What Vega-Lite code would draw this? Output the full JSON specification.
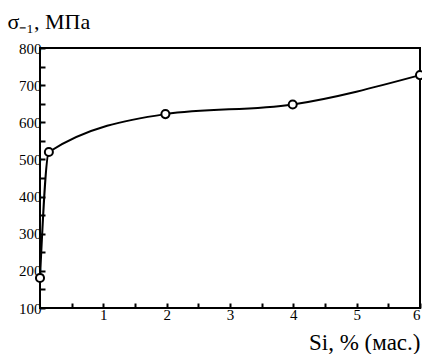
{
  "$schema": "https://vega.github.io/schema/vega-lite/v6.json",
  "width": 380,
  "height": 260,
  "autosize": "none",
  "padding": {"left": 40, "top": 48, "right": 2, "bottom": 46},
  "background": "white",
  "config": {
    "view": {"stroke": "black", "strokeWidth": 2},
    "font": "Liberation Serif, serif",
    "axis": {"grid": false, "domain": false, "labelColor": "black", "titleColor": "black", "titleFontWeight": "normal", "tickColor": "black", "tickWidth": 2, "tickSize": -5}
  },
  "data": {"values": [
    {"si": 0.0, "s": 181},
    {"si": 0.14, "s": 520},
    {"si": 1.98, "s": 622},
    {"si": 3.99, "s": 648},
    {"si": 6.0, "s": 727}
  ]},
  "encoding": {
    "x": {"field": "si", "type": "quantitative", "scale": {"domain": [0, 6], "nice": false},
      "axis": {"values": [0.5,1,1.5,2,2.5,3,3.5,4,4.5,5,5.5,6], "labelExpr": "datum.value % 1 == 0 ? format(datum.value, 'd') : ''", "labelFont": "Liberation Serif, serif", "labelFontSize": 15, "labelPadding": 4, "labelFlush": true,
        "title": "Si, % (мас.)", "titleFont": "Liberation Serif, serif", "titleFontSize": 23, "titleAlign": "right", "titleAnchor": null, "titleX": 380, "titleY": 41, "titleBaseline": "alphabetic"}},
    "y": {"field": "s", "type": "quantitative", "scale": {"domain": [100, 800], "nice": false, "zero": false},
      "axis": {"values": [100,150,200,250,300,350,400,450,500,550,600,650,700,750,800], "labelExpr": "datum.value % 100 == 0 ? format(datum.value, 'd') : ''", "labelFont": "Liberation Serif, serif", "labelFontSize": 15, "labelPadding": 4, "labelFlush": false,
        "title": "σ₋₁, МПа", "titleFont": "Liberation Serif, serif", "titleFontSize": 22, "titleAngle": 0, "titleAlign": "left", "titleX": -33, "titleY": -20, "titleBaseline": "alphabetic"}}
  },
  "layer": [
    {"mark": {"type": "line", "interpolate": "monotone", "color": "black", "strokeWidth": 2}},
    {"mark": {"type": "point", "shape": "circle", "filled": true, "fill": "white", "stroke": "black", "strokeWidth": 2, "size": 65, "opacity": 1}}
  ]
}
